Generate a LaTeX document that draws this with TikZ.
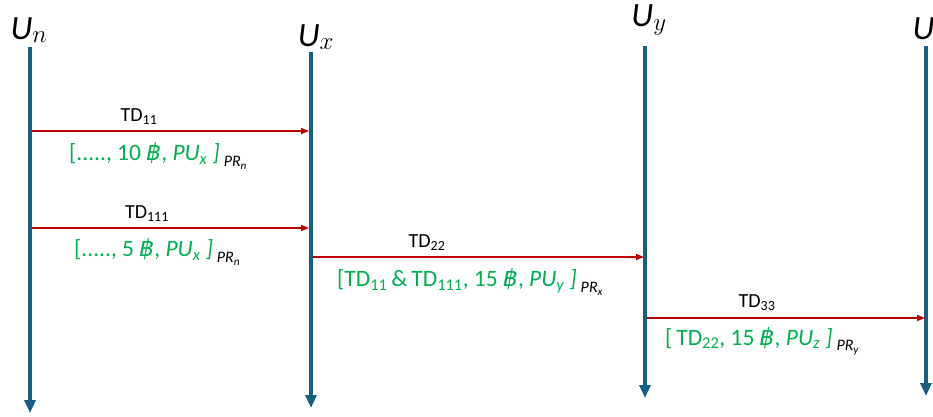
\documentclass[tikz,border=0pt]{standalone}
\usepackage{fontspec}
\setmainfont{Carlito}
\newfontfamily\bahtfont{DejaVu Sans}
\usetikzlibrary{arrows.meta,positioning}
\definecolor{lifeblue}{RGB}{22,96,132}
\definecolor{msgred}{RGB}{192,0,0}
\definecolor{sigreen}{RGB}{0,176,80}
\newcommand{\baht}{{\bahtfont\itshape ฿}}
\newcommand{\signed}[2]{\textcolor{sigreen}{#1}\,\raisebox{-0.5ex}{\fontsize{16}{18}\selectfont\textit{PR\textsubscript{#2}}}}
\tikzset{
  life/.style={draw=lifeblue,line width=4pt,-{Triangle[length=13pt,width=11pt]}},
  msg/.style={draw=msgred,line width=1.5pt,-{Triangle[length=8pt,width=6pt]}},
  td/.style={font=\fontsize{20}{23}\selectfont,inner sep=1pt},
  sig/.style={font=\fontsize{23.5}{27}\selectfont,inner sep=1pt,anchor=west},
  who/.style={font=\fontsize{34}{38}\selectfont,inner sep=0pt}
}
\begin{document}
\begin{tikzpicture}[x=1pt,y=-1pt]
\useasboundingbox (0,0) rectangle (933,417);
% lifelines
\node[who] (Un) at (29,30) {\textit{U}$_{n}$};
\node[who] (Ux) at (316,37) {\textit{U}$_{x}$};
\node[who] (Uy) at (649,20) {\textit{U}$_{y}$};
\node[who] (Uz) at (930,30) {\textit{U}$_{z}$};
\coordinate (nt) at (30,47);  \coordinate (nb) at (30,413);
\coordinate (xt) at (311,52); \coordinate (xb) at (311,408);
\coordinate (yt) at (645,46); \coordinate (yb) at (645,398);
\coordinate (zt) at (926,46); \coordinate (zb) at (926,396);
\draw[life] (nt) -- (nb);
\draw[life] (xt) -- (xb);
\draw[life] (yt) -- (yb);
\draw[life] (zt) -- (zb);
% messages
\coordinate (n1) at (32,131); \coordinate (x1) at (309,131);
\coordinate (n2) at (32,228); \coordinate (x2) at (309,228);
\coordinate (x3) at (313,257); \coordinate (y3) at (644,257);
\coordinate (y4) at (647,318); \coordinate (z4) at (925,318);
\draw[msg] (n1) -- (x1);
\draw[msg] (n2) -- (x2);
\draw[msg] (x3) -- (y3);
\draw[msg] (y4) -- (z4);
\node[td] (td11) at (139,117) {TD\textsubscript{11}};
\node[td] (td111) at (147,214) {TD\textsubscript{111}};
\node[td] (td22) at (427,243) {TD\textsubscript{22}};
\node[td] (td33) at (757,303) {TD\textsubscript{33}};
\node[sig] (s11) at (68,156) {\signed{[....., 10 \baht, \textit{PU\textsubscript{x} ]}}{n}};
\node[sig] (s111) at (73,252) {\signed{[....., 5 \baht, \textit{PU\textsubscript{x} ]}}{n}};
\node[sig] (s22) at (336,282) {\signed{[TD\textsubscript{11}\,\&\,TD\textsubscript{111}, 15 \baht, \textit{PU\textsubscript{y} ]}}{x}};
\node[sig] (s33) at (664,341) {\signed{[\,TD\textsubscript{22}, 15 \baht, \textit{PU\textsubscript{z} ]}}{y}};
\end{tikzpicture}
\end{document}
